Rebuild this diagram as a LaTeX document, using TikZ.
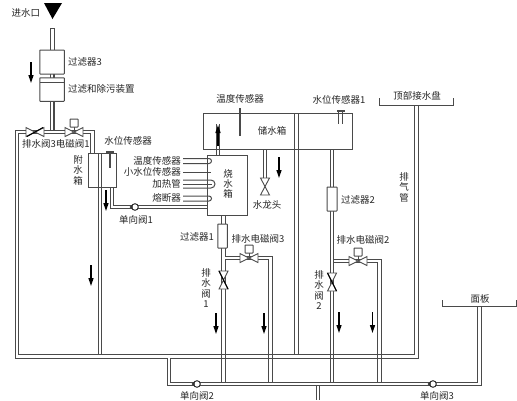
\documentclass[tikz,border=0pt]{standalone}
\usepackage{fontspec}
\setmainfont{Noto Sans CJK SC}
\usetikzlibrary{arrows.meta}
\definecolor{pipec}{HTML}{4A4A4A}
\tikzset{
 pipe/.style={draw=pipec,line width=1.1pt,double=white,double distance=2.3pt,line join=miter},
 box/.style={draw=pipec,line width=1pt,fill=white},
 thinl/.style={draw=pipec,line width=1pt},
 flow/.style={draw=black,line width=1.3pt,-{Triangle[width=5pt,length=8pt]}},
 lbl/.style={inner sep=0pt,font=\fontsize{9.5pt}{10pt}\selectfont,text=black!85},
 vlbl/.style={lbl,align=center,font=\fontsize{9.5pt}{10.4pt}\selectfont},
 valveb/.style={draw=pipec,line width=.9pt,fill=white,line join=miter}
}
\newcommand{\hvalve}[2]{\draw[valveb] (#1-9,#2-4.5) -- (#1+9,#2+4.5) -- (#1+9,#2-4.5) -- (#1-9,#2+4.5) -- cycle;}
\newcommand{\vvalve}[2]{\draw[valveb] (#1-4.5,#2-9) -- (#1+4.5,#2+9) -- (#1-4.5,#2+9) -- (#1+4.5,#2-9) -- cycle;\draw[draw=black,line width=1pt] (#1-4.5,#2-9) -- (#1+4.5,#2+9);}
\newcommand{\solen}[2]{\hvalve{#1}{#2}\draw[thinl] (#1,#2) -- (#1,#2-6);\draw[box,rounded corners=.5pt] (#1-4,#2-13) rectangle (#1+4,#2-5);}
\newcommand{\checkv}[2]{\draw[draw=black!80,line width=1pt,fill=white] (#1,#2) circle (3.3);\fill[black!80] (#1-5.5,#2) -- (#1-2.5,#2-2.5) -- (#1-2.5,#2+2.5) -- cycle;}
\newcommand{\crossh}[2]{\draw[thinl] (#1-3.5,#2-2.2) -- (#1+3.5,#2-2.2) (#1-3.5,#2+2.2) -- (#1+3.5,#2+2.2);}
\begin{document}
\begin{tikzpicture}[x=1pt,y=-1pt]
\useasboundingbox (0,0) rectangle (517,400);
\fill[white] (0,0) rectangle (517,400);
% inlet
\fill[black] (44,3) -- (62,3) -- (52.5,19) -- cycle;
\draw[box] (50,28) rectangle (54.5,52);
\draw[pipe] (52.3,72) -- (52.3,80);
\draw[pipe] (52.3,100) -- (52.3,132);
\node[box,rounded corners=.5pt,minimum width=24.5pt,minimum height=24pt,inner sep=0pt] (filterA) at (52,62) {};
\node[box,rounded corners=.5pt,minimum width=24.5pt,minimum height=23.5pt,inner sep=0pt] (filterB) at (52,89.5) {};
\draw[thinl] (40,82.5) -- (64,82.5);
% main return pipes
\draw[pipe] (92.5,153) -- (92.5,132) -- (17,132) -- (17,356.5) -- (416.5,356.5) -- (416.5,105);
\draw[pipe] (100,153) -- (100,354);
\draw[pipe] (296.5,113) -- (296.5,354);
\draw[pipe] (169,358) -- (169,384) -- (479.5,384) -- (479.5,306);
\draw[pipe] (318,386) -- (318,400);
% tank pipes
\draw[pipe] (112,187) -- (112,207) -- (207,207);
\draw[pipe] (218,124) -- (218,155);
\draw[pipe] (265,149) -- (265,180);
\draw[pipe] (223.5,215) -- (223.5,382);
\draw[pipe] (225,258) -- (270.5,258) -- (270.5,382);
\draw[pipe] (332,149) -- (332,382);
\draw[pipe] (334,261) -- (379.5,261) -- (379.5,382);
\crossh{223.5}{356.5}\crossh{270.5}{356.5}\crossh{332}{356.5}\crossh{379.5}{356.5}
% tanks
\node[draw=pipec,line width=1pt,minimum width=28.5pt,minimum height=34.5pt,inner sep=0pt] (auxtank) at (102.5,170.5) {};
\node[draw=pipec,line width=1pt,minimum width=149pt,minimum height=36pt,inner sep=0pt] (storetank) at (277.5,131) {};
\node[draw=pipec,line width=1pt,minimum width=40pt,minimum height=60pt,inner sep=0pt] (boiltank) at (227,185) {};
% sensors
\draw[draw=pipec,line width=2.2pt] (240,108) -- (240,136);
\draw[thinl] (338.5,112) -- (338.5,124) (342,112) -- (342,124);
\draw[draw=pipec,line width=2.4pt] (337,111) -- (345,111);
\draw[draw=pipec,line width=1.6pt] (106,152) -- (114,152);
\draw[draw=pipec,line width=2.6pt] (110,152) -- (110,168);
\draw[thinl] (183,158.5) -- (209,158.5) arc (-90:90:2.5) -- (183,163.5);
\draw[thinl] (183,172) -- (211,172);
\draw[thinl] (183,180) -- (211,180) arc (-90:90:4) -- (183,188);
\draw[thinl] (183,184) -- (212,184);
\draw[thinl] (183,196) -- (209,196) arc (-90:90:2.5) -- (183,201);
% filters
\node[box,rounded corners=.5pt,minimum width=9.5pt,minimum height=24pt,inner sep=0pt] (filterC) at (222.5,236) {};
\node[box,rounded corners=.5pt,minimum width=10pt,minimum height=24pt,inner sep=0pt] (filterD) at (332,199) {};
% valves
\hvalve{35}{132}
\draw[draw=black,line width=1pt] (27,136.5) -- (43,127.5);
\solen{74}{132}
\draw[valveb] (260.5,178) -- (269.5,195) -- (260.5,195) -- (269.5,178) -- cycle;
\solen{249}{258}
\solen{358}{261}
\vvalve{223.5}{280}
\vvalve{332}{282}
\checkv{135}{207}
\checkv{197}{384}
\checkv{433}{384}
% plates
\draw[thinl] (379,98) -- (379,105.5) -- (453,105.5) -- (453,98);
\draw[thinl] (442,300) -- (442,306.5) -- (516,306.5) -- (516,300);
% flow arrows
\draw[flow] (31,62) -- (31,83);
\draw[flow] (91,265) -- (91,286);
\draw[flow] (106,190) -- (106,211);
\draw[flow] (218,146) -- (218,125);
\draw[flow] (279,157) -- (279,178);
\draw[flow] (216,313) -- (216,334);
\draw[flow] (264,313) -- (264,334);
\draw[flow] (339,312) -- (339,333);
\draw[flow] (372.5,312) -- (372.5,333);
% labels
\node[lbl] (t1) at (26,13) {进水口};
\node[lbl,anchor=west] (t2) at (68,62) {过滤器3};
\node[lbl,anchor=west] (t3) at (68,89) {过滤和除污装置};
\node[lbl,anchor=west] (t4) at (22,144) {排水阀3电磁阀1};
\node[vlbl] (t5) at (78,170) {附\\水\\箱};
\node[lbl] (t6) at (128,141) {水位传感器};
\node[lbl,anchor=east] (t7) at (181,161) {温度传感器};
\node[lbl,anchor=east] (t8) at (181,172) {小水位传感器};
\node[lbl,anchor=east] (t9) at (181,184) {加热管};
\node[lbl,anchor=east] (t10) at (181,198) {熔断器};
\node[lbl] (t11) at (136,220) {单向阀1};
\node[lbl] (t12) at (197,237) {过滤器1};
\node[lbl] (t13) at (258,239) {排水电磁阀3};
\node[vlbl] (t14) at (206,288) {排\\水\\阀\\1};
\node[lbl] (t15) at (240,99) {温度传感器};
\node[lbl] (t16) at (339,100) {水位传感器1};
\node[lbl] (t17) at (272,131) {储水箱};
\node[vlbl] (t18) at (228,184) {烧\\水\\箱};
\node[lbl] (t19) at (267,205) {水龙头};
\node[lbl] (t20) at (358,200) {过滤器2};
\node[lbl] (t21) at (363,240) {排水电磁阀2};
\node[vlbl] (t22) at (319,290) {排\\水\\阀\\2};
\node[lbl] (t23) at (417,96) {顶部接水盘};
\node[vlbl] (t24) at (404,187) {排\\气\\管};
\node[lbl] (t25) at (480,299) {面板};
\node[lbl] (t26) at (197,396) {单向阀2};
\node[lbl] (t27) at (437,396) {单向阀3};
\end{tikzpicture}
\end{document}
